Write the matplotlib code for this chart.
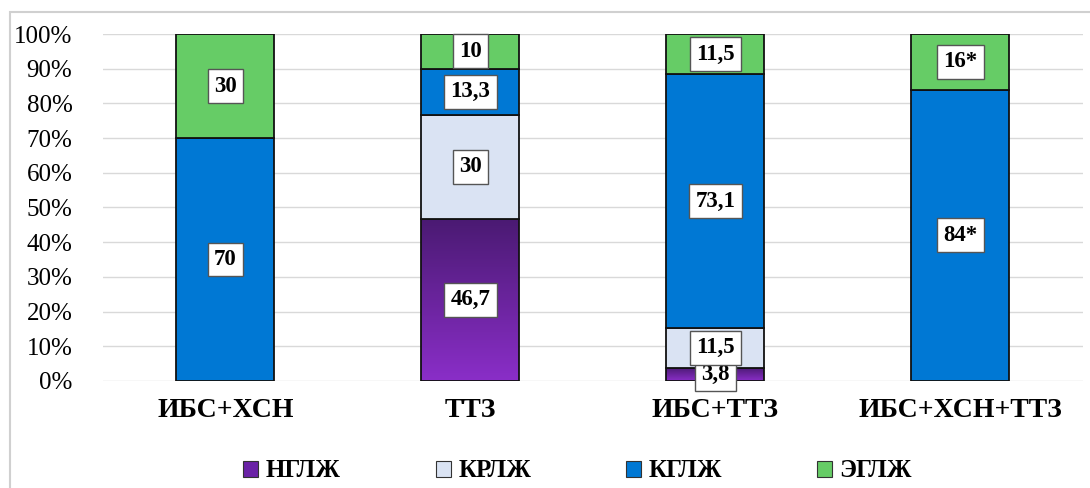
import numpy as np
import matplotlib
matplotlib.use("Agg")
import matplotlib.pyplot as plt
from matplotlib.patches import Rectangle
from matplotlib.colors import LinearSegmentedColormap

plt.rcParams['font.family'] = ['Liberation Serif', 'DejaVu Serif']

categories = ["ИБС+ХСН", "ТТЗ", "ИБС+ТТЗ", "ИБС+ХСН+ТТЗ"]
series = ["НГЛЖ", "КРЛЖ", "КГЛЖ", "ЭГЛЖ"]
nglzh = [0, 46.7, 3.8, 0]
krlzh = [0, 30, 11.5, 0]
kglzh = [70, 13.3, 73.1, 84]
eglzh = [30, 10, 11.5, 16]
significant = [False, False, False, True]

values = [nglzh, krlzh, kglzh, eglzh]
colors = ["#6a22a6", "#dae3f3", "#0078d4", "#66cc66"]

fig = plt.figure(figsize=(10.9, 4.88), dpi=100)
ax = fig.add_axes([0.0945, 0.2193, 0.899, 0.7110])

x = np.arange(len(categories))
width = 0.4
bottom = np.zeros(len(categories))

purple_cmap = LinearSegmentedColormap.from_list("purple", ["#8a2ec8", "#4a1a72"])

for s, (vals, col) in enumerate(zip(values, colors)):
    vals = np.array(vals, dtype=float)
    bars = ax.bar(x, vals, width, bottom=bottom, color=col, edgecolor="#111111",
                  linewidth=1.3, zorder=3, label=series[s])
    if s == 0:
        for b in bars:
            if b.get_height() <= 0:
                continue
            b.set_facecolor("none")
            x0, y0 = b.get_x(), b.get_y()
            grad = np.linspace(0, 1, 256).reshape(-1, 1)
            im = ax.imshow(grad, cmap=purple_cmap, aspect="auto", origin="lower",
                           extent=[x0, x0 + b.get_width(), y0, y0 + b.get_height()],
                           zorder=2.9)
            im.set_clip_path(b)
    for i, v in enumerate(vals):
        if v <= 0:
            continue
        txt = f"{v:g}".replace(".", ",") + ("*" if significant[i] else "")
        ax.text(x[i], bottom[i] + v / 2, txt, ha="center", va="center",
                fontsize=16.5, fontweight="bold", zorder=5,
                bbox=dict(boxstyle="square,pad=0.28", facecolor="white",
                          edgecolor="#555555", linewidth=1.0))
    bottom += vals

ax.set_xlim(-0.5, len(categories) - 0.5)
ax.set_ylim(0, 100)
ax.set_yticks(np.arange(0, 101, 10))
ax.set_yticklabels([f"{t}%" for t in range(0, 101, 10)], fontsize=18)
ax.set_xticks(x)
ax.set_xticklabels(categories, fontsize=20, fontweight="bold")
ax.tick_params(axis="y", length=0, pad=22)
ax.tick_params(axis="x", length=0, pad=12)
ax.grid(axis="y", color="#d9d9d9", linewidth=1.0, zorder=0)
ax.set_axisbelow(True)
for sp in ax.spines.values():
    sp.set_visible(False)

handles = [Rectangle((0, 0), 1, 1, facecolor=c, edgecolor="#333333", linewidth=0.8)
           for c in colors]
fig.legend(handles, series, loc="center", bbox_to_anchor=(0.53, 0.035), ncol=4,
           frameon=False, prop=dict(size=18, weight="bold"),
           handlelength=0.6, handleheight=0.6, handletextpad=0.3, columnspacing=3.8)

# light outer frame
fig.patches.append(Rectangle((10 / 1090, -0.05), 1.2, 1 - 12 / 488 + 0.05,
                             transform=fig.transFigure, fill=False,
                             edgecolor="#d0d0d0", linewidth=1.5))

fig.savefig("out.png", dpi=100)
